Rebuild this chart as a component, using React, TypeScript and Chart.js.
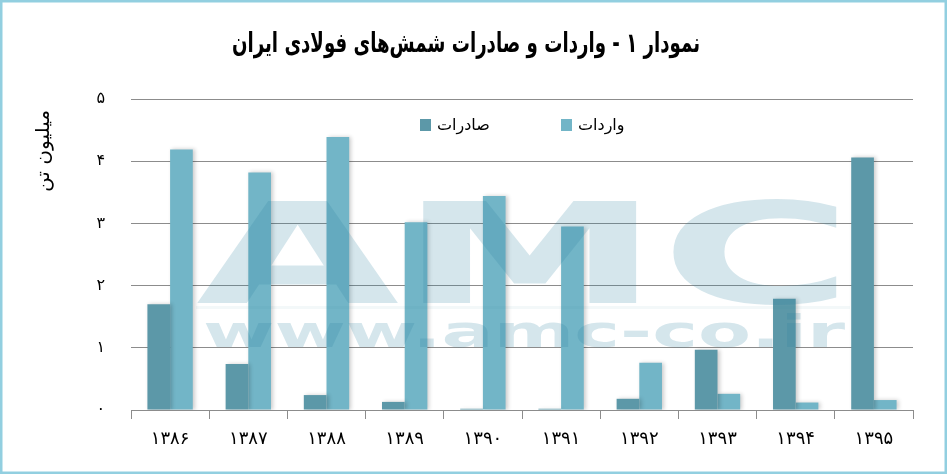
import { useEffect, useRef } from 'react';
import Chart, { ChartConfiguration, Plugin } from 'chart.js/auto';

const years = ['۱۳۸۶', '۱۳۸۷', '۱۳۸۸', '۱۳۸۹', '۱۳۹۰', '۱۳۹۱', '۱۳۹۲', '۱۳۹۳', '۱۳۹۴', '۱۳۹۵'];
const exportsData = [1.7, 0.74, 0.24, 0.13, 0.02, 0.02, 0.18, 0.97, 1.79, 4.06];
const importsData = [4.19, 3.82, 4.39, 3.02, 3.44, 2.95, 0.76, 0.26, 0.12, 0.16];
const seriesLabels = ['صادرات', 'واردات'];
const seriesColors = ['#5c98a8', '#72b5c7'];

const chartTitle = 'نمودار ۱ - واردات و صادرات شمش‌های فولادی ایران';
const yTitle = 'میلیون تن';

const faDigits = '۰۱۲۳۴۵۶۷۸۹';
const toFa = (v: number | string) => String(v).replace(/[0-9]/g, (d) => faDigits[+d]);

const FONT = "'DejaVu Sans', sans-serif";
const FONT_COND = "'DejaVu Sans Condensed', 'DejaVu Sans', sans-serif";

const decorPlugin: Plugin<'bar'> = {
  id: 'decor',
  beforeDraw(chart) {
    const { ctx, width, height } = chart;
    ctx.save();
    ctx.fillStyle = '#ffffff';
    ctx.fillRect(0, 0, width, height);
    ctx.restore();
  },
  beforeDatasetsDraw(chart) {
    const ctx = chart.ctx;
    ctx.save();
    ctx.shadowColor = 'rgba(0,0,0,0.2)';
    ctx.shadowBlur = 4;
    ctx.shadowOffsetX = 2;
    ctx.shadowOffsetY = 0;
  },
  afterDatasetsDraw(chart) {
    const { ctx } = chart;
    ctx.restore();

    // watermark
    ctx.save();
    ctx.fillStyle = 'rgba(45,130,160,0.2)';
    ctx.textBaseline = 'alphabetic';
    ctx.textAlign = 'left';
    ctx.font = `bold 140px ${FONT}`;
    let w = ctx.measureText('AMC').width;
    ctx.save();
    ctx.translate(196, 303);
    ctx.scale(657 / w, 1);
    ctx.fillText('AMC', 0, 0);
    ctx.restore();
    ctx.fillStyle = 'rgba(45,130,160,0.06)';
    ctx.fillRect(196, 306, 654, 3);
    ctx.fillStyle = 'rgba(45,130,160,0.2)';
    ctx.font = `bold 44px ${FONT}`;
    w = ctx.measureText('www.amc-co.ir').width;
    ctx.translate(203, 347);
    ctx.scale(642 / w, 1);
    ctx.fillText('www.amc-co.ir', 0, 0);
    ctx.restore();
  },
  afterDraw(chart) {
    const { ctx, width, height } = chart;
    ctx.save();
    // title
    ctx.direction = 'rtl';
    ctx.fillStyle = '#000';
    ctx.textAlign = 'center';
    ctx.textBaseline = 'middle';
    ctx.font = `bold 27px ${FONT_COND}`;
    const tw = ctx.measureText(chartTitle).width;
    ctx.save();
    ctx.translate(466, 45);
    ctx.scale(468 / tw, 1);
    ctx.fillText(chartTitle, 0, 0);
    ctx.restore();

    // y axis title
    ctx.save();
    ctx.translate(44, 151);
    ctx.rotate(-Math.PI / 2);
    ctx.font = `19px ${FONT}`;
    const yw = ctx.measureText(yTitle).width;
    ctx.scale(82 / yw, 1);
    ctx.fillText(yTitle, 0, 0);
    ctx.restore();

    // legend inside plot area
    ctx.direction = 'ltr';
    ctx.textAlign = 'left';
    ctx.font = `16px ${FONT}`;
    const boxX = [420, 561];
    chart.data.datasets.forEach((ds, i) => {
      ctx.fillStyle = ds.backgroundColor as string;
      ctx.fillRect(boxX[i], 119, 11, 12);
      ctx.fillStyle = '#000';
      ctx.fillText(ds.label as string, boxX[i] + 17, 126);
    });

    // frame
    ctx.strokeStyle = '#92cfe0';
    ctx.lineWidth = 3;
    ctx.strokeRect(1, 1, width - 2, height - 2);
    ctx.restore();
  },
};

const SteelChart = () => {
  const chartRef = useRef<HTMLCanvasElement | null>(null);
  const chartInstance = useRef<Chart | null>(null);

  useEffect(() => {
    document.body.style.margin = '0';
    if (chartInstance.current) {
      chartInstance.current.destroy();
    }
    if (!chartRef.current) return;
    const ctx = chartRef.current.getContext('2d');
    if (!ctx) return;

    const config: ChartConfiguration<'bar', number[], string> = {
      type: 'bar',
      data: {
        labels: years,
        datasets: [
          {
            label: seriesLabels[0],
            data: exportsData,
            backgroundColor: seriesColors[0],
            borderWidth: 0,
            categoryPercentage: 0.58,
            barPercentage: 1,
          },
          {
            label: seriesLabels[1],
            data: importsData,
            backgroundColor: seriesColors[1],
            borderWidth: 0,
            categoryPercentage: 0.58,
            barPercentage: 1,
          },
        ],
      },
      options: {
        responsive: false,
        animation: false,
        layout: { padding: { top: 99, right: 34, left: 0, bottom: 0 } },
        plugins: {
          legend: { display: false },
          title: { display: false },
          tooltip: { enabled: false },
        },
        scales: {
          x: {
            afterFit: (scale) => {
              scale.height = 64;
            },
            grid: {
              display: true,
              drawOnChartArea: false,
              drawTicks: true,
              tickLength: 9,
              color: '#8c8c8c',
              offset: true,
            },
            border: { display: true, color: '#8c8c8c', width: 1 },
            ticks: {
              color: '#000',
              padding: 10,
              font: { family: FONT, size: 18 },
            },
          },
          y: {
            min: 0,
            max: 5,
            afterFit: (scale) => {
              scale.width = 131;
            },
            border: { display: false },
            grid: { color: '#8c8c8c', drawTicks: false, lineWidth: 1 },
            ticks: {
              stepSize: 1,
              color: '#000',
              padding: 26,
              font: { family: FONT, size: 16 },
              callback: (v) => toFa(v),
            },
          },
        },
      },
      plugins: [decorPlugin],
    };

    chartInstance.current = new Chart(ctx, config);
    return () => {
      if (chartInstance.current) {
        chartInstance.current.destroy();
        chartInstance.current = null;
      }
    };
  }, []);

  return (
    <div style={{ width: 947, height: 474 }}>
      <canvas ref={chartRef} width={947} height={474} style={{ display: 'block' }} />
    </div>
  );
};

export default function App() {
  return <SteelChart />;
}
